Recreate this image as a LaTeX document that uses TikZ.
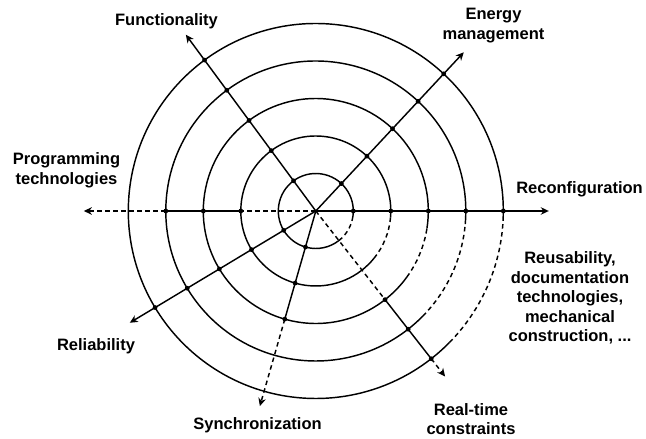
\documentclass[tikz,border=0pt]{standalone}
\usepackage{fontspec}
\setmainfont{Liberation Sans}
\usetikzlibrary{arrows.meta}
\begin{document}
\begin{tikzpicture}[x=1pt,y=1pt,
  ring/.style={line width=1.45pt},
  dashring/.style={line width=1.45pt, dash pattern=on 4.5pt off 3.5pt},
  axisline/.style={line width=1.45pt},
  dashaxis/.style={line width=1.45pt, dash pattern=on 4.5pt off 3.5pt},
  tip/.style={-{Stealth[length=8pt,width=7.5pt,inset=2.5pt]}},
  dot/.style={circle, fill=black, inner sep=0pt, minimum size=4.8pt},
  lbl/.style={font=\fontsize{16.5}{19.5}\selectfont\bfseries, align=center, inner sep=0pt}]
\useasboundingbox (0,0) rectangle (646,439);
\begin{scope}[shift={(315.8,228)}]
  \coordinate (c) at (0,0);
  % rings: solid part and dashed part
  \foreach \r/\s/\b in {37.5/14/52, 75/5/39, 112.5/9/36, 150/5/44.5, 187.5/3/44.5} {
    \draw[ring] (-\s:\r) arc[start angle=-\s, end angle=360-\b, radius=\r];
    \draw[dashring] (-\b:\r) arc[start angle=-\b, end angle=-\s, radius=\r];
  }
  % axis end points
  \coordinate (tR) at (0:233);
  \coordinate (tE) at (47:217);
  \coordinate (tF) at (126.4:219);
  \coordinate (tP) at (180:232);
  \coordinate (tL) at (211:217);
  \coordinate (tS) at (254:203);
  \coordinate (tT) at (-52:210);
  % crossing points
  \foreach \i/\r in {1/37.5, 2/75, 3/112.5, 4/150, 5/187.5} {
    \coordinate (R\i) at (0:\r);
    \coordinate (E\i) at (47:\r);
    \coordinate (F\i) at (126.4:\r);
    \coordinate (P\i) at (180:\r);
    \coordinate (L\i) at (211:\r);
    \coordinate (S\i) at (254:\r);
    \coordinate (T\i) at (-52:\r);
  }
  % axes
  \draw[axisline,tip] (c) -- (tR);
  \draw[axisline,tip] (c) -- (tE);
  \draw[axisline,tip] (c) -- (tF);
  \draw[axisline,tip] (c) -- (tL);
  \draw[dashaxis] (c) -- (P2);
  \draw[axisline] (P2) -- (P4);
  \draw[dashaxis,tip] (P4) -- (tP);
  \draw[axisline] (c) -- (S3);
  \draw[dashaxis,tip] (S3) -- (tS);
  \draw[dashaxis] (c) -- (T3);
  \draw[axisline] (T3) -- (T5);
  \draw[dashaxis,tip] (T5) -- (tT);
  % dots
  \foreach \i in {1,...,5} {
    \node[dot] (dR\i) at (R\i) {};
    \node[dot] (dE\i) at (E\i) {};
    \node[dot] (dF\i) at (F\i) {};
    \node[dot] (dL\i) at (L\i) {};
  }
  \foreach \i in {2,3,4} { \node[dot] (dP\i) at (P\i) {}; }
  \foreach \i in {1,2,3} { \node[dot] (dS\i) at (S\i) {}; }
  \foreach \i in {3,4,5} { \node[dot] (dT\i) at (T\i) {}; }
\end{scope}
% labels
\node[lbl] (lF) at (166.5,417.3) {Functionality};
\node[lbl] (lE) at (493.5,413.5) {Energy\\management};
\node[lbl] (lR) at (579.5,249.3) {Reconfiguration};
\node[lbl] (lP) at (66.5,268.5) {Programming\\technologies};
\node[lbl] (lU) at (570,141) {Reusability,\\documentation\\technologies,\\mechanical\\construction, ...};
\node[lbl] (lL) at (96,92.3) {Reliability};
\node[lbl] (lS) at (257.5,14) {Synchronization};
\node[lbl] (lT) at (471,20) {Real-time\\constraints};
\end{tikzpicture}
\end{document}
